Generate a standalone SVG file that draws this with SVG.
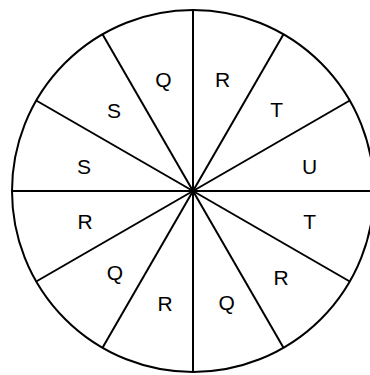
<svg xmlns="http://www.w3.org/2000/svg" width="370" height="375" viewBox="0 0 370 375">
<style>
.l{stroke:#000;stroke-width:2;fill:none}
text{font-family:"Liberation Sans",Arial,sans-serif;font-size:21px;fill:#000;text-anchor:middle}
</style>
<rect width="370" height="375" fill="#fff"/>
<g id="wheel">
<circle class="l" cx="193" cy="191" r="181"/>
</g>
<g id="connectors">
<line class="l" x1="193" y1="10" x2="193" y2="372"/>
<line class="l" x1="12" y1="191" x2="374" y2="191"/>
<line class="l" x1="102.5" y1="34.2" x2="283.5" y2="347.8"/>
<line class="l" x1="283.5" y1="34.2" x2="102.5" y2="347.8"/>
<line class="l" x1="36.2" y1="100.5" x2="349.8" y2="281.5"/>
<line class="l" x1="349.8" y1="100.5" x2="36.2" y2="281.5"/>
<circle cx="193" cy="191" r="3" fill="#000"/>
</g>
<g id="labels">
<text x="163.3" y="87">Q</text>
<text x="222.7" y="87">R</text>
<text x="276.7" y="117">T</text>
<text x="309.7" y="173.5">U</text>
<text x="309.7" y="228.5">T</text>
<text x="281" y="284.5">R</text>
<text x="226.7" y="309.5">Q</text>
<text x="165" y="310.5">R</text>
<text x="115" y="279.5">Q</text>
<text x="85" y="228.5">R</text>
<text x="84" y="173.5">S</text>
<text x="114" y="117.8">S</text>
</g>
</svg>
